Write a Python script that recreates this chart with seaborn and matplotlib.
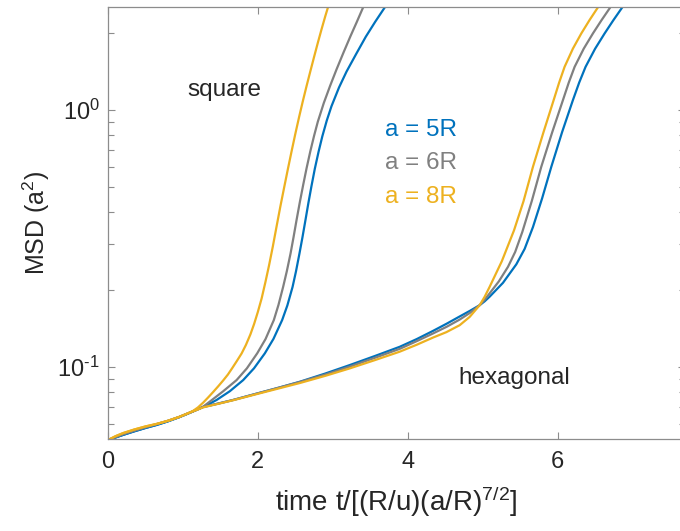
import numpy as np
import pandas as pd
import matplotlib
matplotlib.use("Agg")
import matplotlib.pyplot as plt
import matplotlib.ticker as mticker
import seaborn as sns

# ---------------- data (MSD given as log10 read on the log axis) ----------------
labels = ["a = 5R", "a = 6R", "a = 8R"]
colors = ["#0072BD", "#808080", "#EDB120"]

# short-time part shared by both lattices
early_x = [0, 0.1, 0.2, 0.35, 0.5, 0.65, 0.8, 0.95, 1.05]
early_log = [
    [-1.284, -1.274, -1.264, -1.250, -1.237, -1.225, -1.211, -1.195, -1.183],
    [-1.284, -1.272, -1.261, -1.247, -1.234, -1.222, -1.209, -1.194, -1.182],
    [-1.284, -1.269, -1.257, -1.243, -1.231, -1.221, -1.209, -1.194, -1.182],
]

# square lattice
sq_x = [
    [1.137, 1.2, 1.30, 1.449, 1.6265, 1.804, 1.9485, 2.093, 2.2085, 2.324, 2.3935, 2.463, 2.509, 2.555,
     2.595, 2.635, 2.675, 2.715, 2.76, 2.81, 2.86, 2.92, 2.982, 3.0825, 3.183, 3.3115, 3.44, 3.5665,
     3.693, 3.8],
    [1.137, 1.2, 1.267, 1.36, 1.538, 1.716, 1.8535, 1.991, 2.102, 2.213, 2.275, 2.337, 2.3865, 2.436,
     2.476, 2.516, 2.56, 2.604, 2.65, 2.70, 2.75, 2.80, 2.88, 2.9645, 3.049, 3.1425, 3.236, 3.32, 3.404, 3.5],
    [1.137, 1.20, 1.271, 1.34, 1.40, 1.47, 1.537, 1.60, 1.66, 1.72, 1.783, 1.84, 1.90, 1.95, 2.00, 2.05,
     2.10, 2.15, 2.20, 2.25, 2.30, 2.35, 2.40, 2.45, 2.50, 2.55, 2.60, 2.65, 2.70, 2.75, 2.80, 2.85,
     2.90, 2.95, 3.0],
]
sq_log = [
    [-1.172, -1.164, -1.151, -1.128, -1.0937, -1.0506, -1.0047, -0.9465, -0.890, -0.817, -0.760, -0.688,
     -0.627, -0.558, -0.4949, -0.428, -0.360, -0.296, -0.228, -0.162, -0.102, -0.040, 0.015, 0.088,
     0.150, 0.2185, 0.2856, 0.3442, 0.3996, 0.448],
    [-1.172, -1.164, -1.1545, -1.134, -1.0938, -1.0506, -1.0048, -0.9465, -0.891, -0.817, -0.758, -0.688,
     -0.6266, -0.558, -0.4945, -0.428, -0.358, -0.292, -0.226, -0.160, -0.100, -0.045, 0.028, 0.095,
     0.158, 0.224, 0.288, 0.343, 0.3996, 0.465],
    [-1.170, -1.157, -1.138, -1.117, -1.098, -1.075, -1.052, -1.029, -1.003, -0.976, -0.947, -0.914,
     -0.873, -0.832, -0.785, -0.733, -0.670, -0.603, -0.530, -0.452, -0.375, -0.302, -0.230, -0.160,
     -0.092, -0.027, 0.035, 0.094, 0.151, 0.207, 0.262, 0.315, 0.366, 0.414, 0.46],
]

# hexagonal lattice
hex_x = [
    [1.137, 1.2, 1.267, 1.47, 1.67, 2.0, 2.28, 2.56, 2.9, 3.227, 3.56, 3.893, 4.12, 4.338, 4.52, 4.693,
     4.83, 4.96, 5.0265, 5.093, 5.271, 5.449, 5.56, 5.671, 5.7935, 5.916, 6.06, 6.204, 6.2885, 6.373,
     6.5, 6.627, 6.7445, 6.862, 7.0],
    [1.137, 1.2, 1.267, 1.47, 1.67, 2.0, 2.28, 2.56, 2.9, 3.227, 3.56, 3.893, 4.12, 4.338, 4.52, 4.693,
     4.83, 4.96, 5.0265, 5.093, 5.2155, 5.338, 5.4335, 5.529, 5.6555, 5.782, 5.9265, 6.071, 6.149, 6.227,
     6.349, 6.471, 6.5865, 6.702, 6.85],
    [1.137, 1.2, 1.267, 1.47, 1.67, 2.0, 2.28, 2.56, 2.9, 3.227, 3.56, 3.893, 4.12, 4.338, 4.5155, 4.693,
     4.8265, 4.96, 5.0265, 5.093, 5.2555, 5.418, 5.5445, 5.671, 5.809, 5.947, 6.02, 6.093, 6.2045, 6.316,
     6.4265, 6.537, 6.7],
]
hex_log = [
    [-1.172, -1.164, -1.1555, -1.142, -1.128, -1.102, -1.080, -1.057, -1.025, -0.992, -0.957, -0.921,
     -0.891, -0.859, -0.831, -0.803, -0.781, -0.759, -0.744, -0.726, -0.672, -0.600, -0.540, -0.455,
     -0.343, -0.2204, -0.0854, 0.0389, 0.1077, 0.1685, 0.2388, 0.2984, 0.3502, 0.3996, 0.459],
    [-1.172, -1.164, -1.1555, -1.142, -1.128, -1.102, -1.080, -1.058, -1.029, -0.998, -0.964, -0.929,
     -0.899, -0.869, -0.843, -0.815, -0.789, -0.759, -0.7377, -0.713, -0.6665, -0.6097, -0.552, -0.474,
     -0.3536, -0.2204, -0.0873, 0.0389, 0.1073, 0.1685, 0.2394, 0.2984, 0.3503, 0.3996, 0.465],
    [-1.172, -1.165, -1.157, -1.143, -1.129, -1.104, -1.083, -1.062, -1.034, -1.005, -0.973, -0.940,
     -0.913, -0.885, -0.864, -0.837, -0.8047, -0.759, -0.7263, -0.6876, -0.588, -0.468, -0.3549, -0.2204,
     -0.0883, 0.0389, 0.1068, 0.1685, 0.2396, 0.2984, 0.3507, 0.3996, 0.474],
]

# ---------------- style ----------------
sns.set_style("ticks")
plt.rcParams["font.family"] = ["Liberation Sans", "DejaVu Sans"]
plt.rcParams["mathtext.fontset"] = "custom"
plt.rcParams["mathtext.rm"] = "Liberation Sans"
plt.rcParams["mathtext.it"] = "Liberation Sans"
plt.rcParams["mathtext.default"] = "regular"

text_col = "#262626"
axis_col = "#8c8c8c"

fig = plt.figure(figsize=(6.8, 5.31), dpi=100)
ax = fig.add_axes([108 / 680, 92 / 531, 577 / 680, 432 / 531])

for i in range(3):
    for xs, logs in [(sq_x[i], sq_log[i]), (hex_x[i], hex_log[i])]:
        x = np.array(early_x + xs)
        y = 10.0 ** np.array(early_log[i] + logs)
        sns.lineplot(x=x, y=y, color=colors[i], lw=1.6, sort=False,
                     estimator=None, ax=ax)

ax.set_yscale("log")
ax.set_xlim(0, 7.7)
ax.set_ylim(0.0525, 2.52)
ax.set_xticks([0, 2, 4, 6])
ax.set_yticks([0.1, 1])
ax.yaxis.set_major_formatter(mticker.FixedFormatter([r"$10^{\text{-}1}$", r"$10^{0}$"]))

ax.tick_params(which="both", direction="in", top=True, right=True,
               color=axis_col, labelcolor=text_col, labelsize=17)
ax.tick_params(axis="x", which="major", length=5, width=0.8, pad=9)
ax.tick_params(axis="y", which="major", length=5, width=0.8, pad=6)
ax.tick_params(which="minor", length=4, width=0.8)
for s in ax.spines.values():
    s.set_color(axis_col)
    s.set_linewidth(0.9)

ax.set_xlabel("time t/[(R/u)(a/R)$^{7/2}$]", fontsize=20, color=text_col, labelpad=8)
ax.set_ylabel("MSD (a$^2$)", fontsize=18, color=text_col)
ax.yaxis.set_label_coords(-0.097, 0.5)

ax.text(1.55, 1.2, "square", fontsize=17.5, color=text_col, ha="center", va="center")
ax.text(5.427, 0.0909, "hexagonal", fontsize=17.5, color=text_col, ha="center", va="center")
for i, (lab, c) in enumerate(zip(labels, colors)):
    ax.text(3.69, 0.839 / (1.35 ** i), lab, fontsize=17.5, color=c, ha="left", va="center")

fig.savefig("out.png", dpi=100)
